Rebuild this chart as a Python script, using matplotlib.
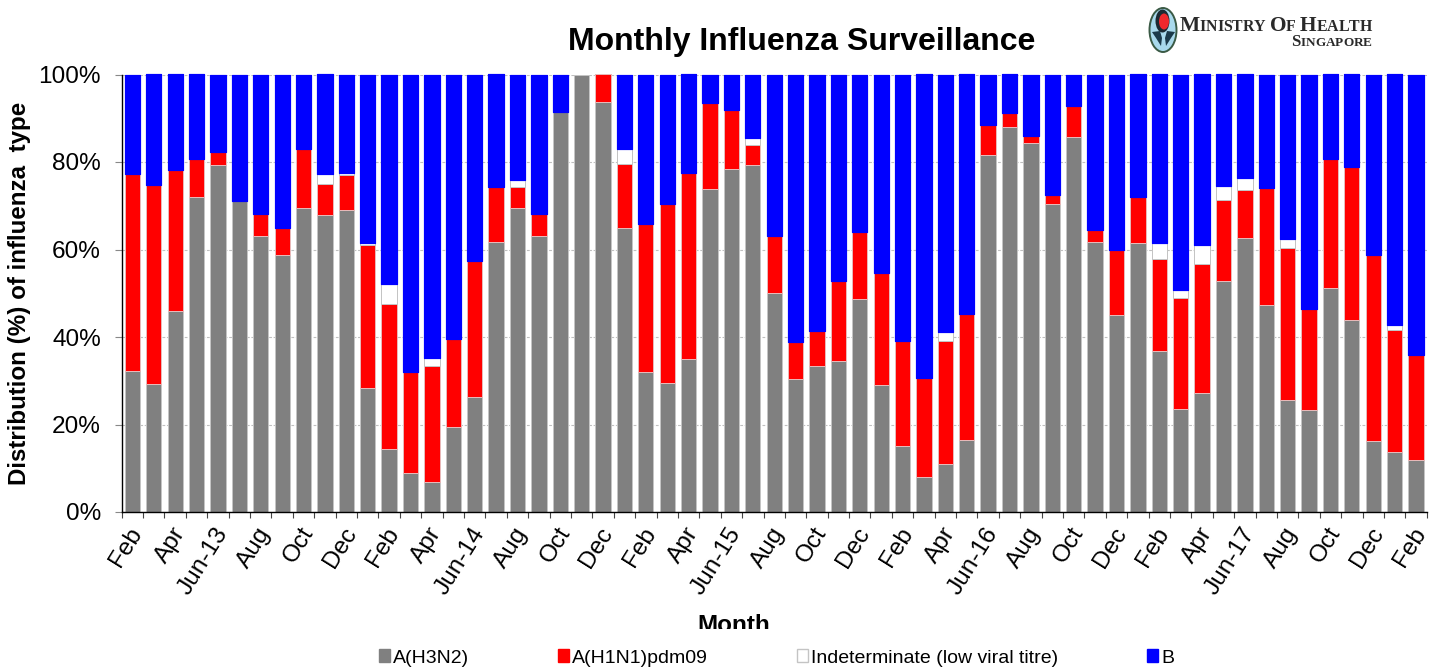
import numpy as np
import matplotlib
matplotlib.use("Agg")
import matplotlib.pyplot as plt
from matplotlib.patches import Ellipse, Polygon, Patch
from matplotlib.transforms import Bbox, ScaledTranslation, IdentityTransform, TransformedBbox

plt.rcParams['font.family'] = ['Liberation Sans', 'DejaVu Sans']

tick_labels = ['Feb','','Apr','','Jun-13','','Aug','','Oct','','Dec','',
               'Feb','','Apr','','Jun-14','','Aug','','Oct','','Dec','',
               'Feb','','Apr','','Jun-15','','Aug','','Oct','','Dec','',
               'Feb','','Apr','','Jun-16','','Aug','','Oct','','Dec','',
               'Feb','','Apr','','Jun-17','','Aug','','Oct','','Dec','','Feb']
h3n2 = [32.3,29.2,46.0,72.1,79.4,71.2,63.2,58.8,69.6,68.0,69.1,28.4,14.4,8.9,6.8,19.5,26.3,
        61.8,69.6,63.2,91.4,100,93.8,64.9,32.0,29.6,35.0,73.9,78.5,79.3,50.1,30.4,33.4,34.5,
        48.7,29.0,15.1,8.0,10.9,16.5,81.7,87.9,84.4,70.5,85.8,61.8,45.1,61.6,36.8,23.5,27.3,
        52.9,62.7,47.4,25.6,23.3,51.2,43.9,16.2,13.7,11.9]
h1n1 = [44.9,45.6,32.1,8.5,3.0,0,5.0,6.2,13.3,7.0,7.9,32.6,33.2,23.2,26.5,20.1,31.1,
        12.5,4.6,5.0,0,0,6.2,14.7,33.8,40.7,42.6,19.5,13.5,4.5,13.0,8.5,8.0,18.4,
        15.2,25.6,24.0,22.7,28.2,28.7,6.7,3.2,1.5,2.0,6.9,2.7,14.7,10.5,21.0,25.4,29.5,
        18.5,11.0,26.6,34.8,23.2,29.4,34.9,42.5,27.8,24.0]
indeterminate = [0,0,0,0,0,0,0,0,0,2.3,0.5,0.6,4.6,0,2.0,0,0,
                 0,1.8,0,0,0,0,3.4,0,0,0,0,0,1.6,0,0,0,0,
                 0,0,0,0,2.0,0,0,0,0,0,0,0,0,0,3.8,1.9,4.3,
                 3.2,2.6,0,2.1,0,0,0,0,1.2,0]
flu_b = [22.8,25.2,21.9,19.4,17.6,28.8,31.8,35.0,17.1,22.7,22.5,38.4,47.8,67.9,64.7,60.4,42.6,
         25.7,24.0,31.8,8.6,0,0,17.0,34.2,29.7,22.4,6.6,8.0,14.6,36.9,61.1,58.6,47.1,
         36.1,45.4,60.9,69.3,58.9,54.8,11.6,8.9,14.1,27.5,7.3,35.5,40.2,27.9,38.4,49.2,38.9,
         25.4,23.7,26.0,37.5,53.5,19.4,21.2,41.3,57.3,64.1]
series_names = ['A(H3N2)', 'A(H1N1)pdm09', 'Indeterminate (low viral titre)', 'B']

W, H = 1435, 669
fig = plt.figure(figsize=(W/100, H/100), dpi=100, facecolor='white')
ax = fig.add_axes([121.7/W, 1-512/H, 1305/W, 437.5/H])
x = np.arange(len(h3n2))
PX = 0.72

bottom = np.zeros(len(x))
styles = [('#808080', '#c4c4c4', 1.0), ('#ff0000', '#e8b8b8', 1.0),
          ('#ffffff', '#c4c4c4', 1.0), ('#0000ff', '#0000ff', 1.2)]
for vals, (fc, ec, lw) in zip([h3n2, h1n1, indeterminate, flu_b], styles):
    v = np.array(vals, float)
    ax.bar(x, v, 0.715, bottom=bottom, color=fc, edgecolor=ec,
           linewidth=np.where(v > 0, lw*PX, 0), joinstyle='round', zorder=3, clip_on=False)
    bottom += v

ax.set_xlim(-0.5, len(x)-0.5)
ax.set_ylim(0, 100)
ax.set_yticks(np.arange(0, 101, 20), [f'{v}%' for v in range(0, 101, 20)], fontsize=17.6)
ax.yaxis.grid(True, color='#c0c0c0', linestyle=(0, (2.5, 1.5)), linewidth=0.8)
ax.set_axisbelow(True)
ax.set_xticks(x, tick_labels, fontsize=17.6, rotation=58, ha='right', rotation_mode='anchor')
ax.set_xticks(np.arange(-0.5, len(x)), minor=True)
ax.tick_params(axis='x', which='major', length=0, pad=8)
ax.tick_params(axis='x', which='minor', length=4.5, width=0.8, color='#444444')
ax.tick_params(axis='y', length=5, width=0.8, color='#888888', pad=10)
shift = ScaledTranslation(-3/72, 0, fig.dpi_scale_trans)
for lab in ax.get_xticklabels():
    lab.set_transform(lab.get_transform() + shift)
for s in ['top', 'right']:
    ax.spines[s].set_visible(False)
for s in ['left', 'bottom']:
    ax.spines[s].set_linewidth(1.0)
    ax.spines[s].set_zorder(4)

ov = fig.add_axes([0, 0, 1, 1], facecolor='none')
ov.set_xlim(0, W); ov.set_ylim(H, 0); ov.axis('off')

ov.text(802, 42, 'Monthly Influenza Surveillance', fontsize=23, fontweight='bold',
        ha='center', va='center')
ov.text(20, 293, 'Distribution (%) of influenza  type', fontsize=17.4, fontweight='bold',
        rotation=90, ha='center', va='center')
month = ov.text(734, 625, 'Month', fontsize=17.5, fontweight='bold', ha='center', va='center')
month.set_clip_box(TransformedBbox(Bbox([[0, H-628.5], [W, H]]), IdentityTransform()))
month.set_clip_on(True)

handles = [Patch(facecolor='#808080', edgecolor='#808080'),
           Patch(facecolor='#ff0000', edgecolor='#ff0000'),
           Patch(facecolor='#ffffff', edgecolor='#c4c4c4'),
           Patch(facecolor='#0000ff', edgecolor='#0000ff')]
fig.legend(handles, series_names, loc='center', bbox_to_anchor=(776.5/W, 1-658/H), ncol=4,
           fontsize=14, frameon=False, handlelength=0.55, handleheight=0.6,
           handletextpad=0.15, columnspacing=4.6, borderpad=0, borderaxespad=0)

# logo
ov.add_patch(Ellipse((1163, 30), 27, 44, fc='#a9d9ec', ec='#3a5a45', lw=1.4))
ov.add_patch(Ellipse((1162.5, 21), 14, 23, fc='#1c2a33', ec='none'))
ov.add_patch(Ellipse((1164, 21.5), 10, 16, fc='#f0282d', ec='none'))
ov.add_patch(Polygon([[1152, 32], [1160, 31], [1162, 38], [1161, 46], [1156, 38]], fc='#1c3a4a', ec='none'))
ov.add_patch(Polygon([[1175, 32], [1167, 31], [1165, 38], [1166, 46], [1171, 38]], fc='#1c3a4a', ec='none'))

def smallcaps(words, x_end, baseline, big, small):
    r = fig.canvas.get_renderer()
    parts = []
    for ch in words:
        t = ov.text(0, baseline, ch, family='Liberation Serif', fontweight='bold', color='#2a2a2a',
                    fontsize=big if ch.isupper() else small, va='baseline', ha='left')
        if not ch.isupper() and ch != ' ':
            t.set_text(ch.upper())
        parts.append(t)
    widths = [p.get_window_extent(r).width if p.get_text() != ' ' else 4 for p in parts]
    cx = x_end - sum(widths)
    for p, w in zip(parts, widths):
        p.set_x(cx)
        cx += w

smallcaps('Ministry Of Health', 1372, 31, 15.4, 11.4)
smallcaps('Singapore', 1372, 46.5, 12, 9.5)

fig.savefig('out.png', dpi=100)
